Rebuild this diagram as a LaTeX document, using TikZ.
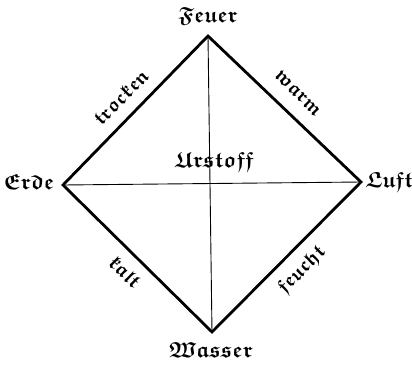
\documentclass[tikz,border=0pt]{standalone}
\usepackage{amssymb}
\newcommand{\fraktext}{\usefont{U}{euf}{b}{n}}
\begin{document}
\begin{tikzpicture}[x=1bp,y=-1bp,
  lab/.style={font=\fontsize{22}{26}\fraktext, inner sep=0pt},
  edgelab/.style={font=\fontsize{20}{24}\fraktext, inner sep=0pt},
  outer/.style={line width=2.8bp, line join=miter},
  inner/.style={line width=0.9bp}]
\useasboundingbox (0,0) rectangle (412,365);
\coordinate (T) at (208,36);
\coordinate (L) at (63,185);
\coordinate (R) at (361,182);
\coordinate (B) at (212,332);
\draw[outer] (T) -- (R) -- (B) -- (L) -- cycle;
\draw[inner] (T) -- (B);
\draw[inner] (L) -- (R);
\node[lab] (feuer) at (208,16) {Feuer};
\node[lab] (erde) at (29,182) {Erde};
\node[lab] (luft) at (389,182) {Luft};
\node[lab] (wasser) at (211,350) {Wasser};
\node[lab] (urstoff) at (214,162) {Urstoff};
\node[edgelab, rotate=45] (trocken) at (121,97) {trocken};
\node[edgelab, rotate=-45] (warm) at (298,93) {warm};
\node[edgelab, rotate=-45] (kalt) at (125,272) {kalt};
\node[edgelab, rotate=45] (feucht) at (302,270) {feucht};
\end{tikzpicture}
\end{document}
